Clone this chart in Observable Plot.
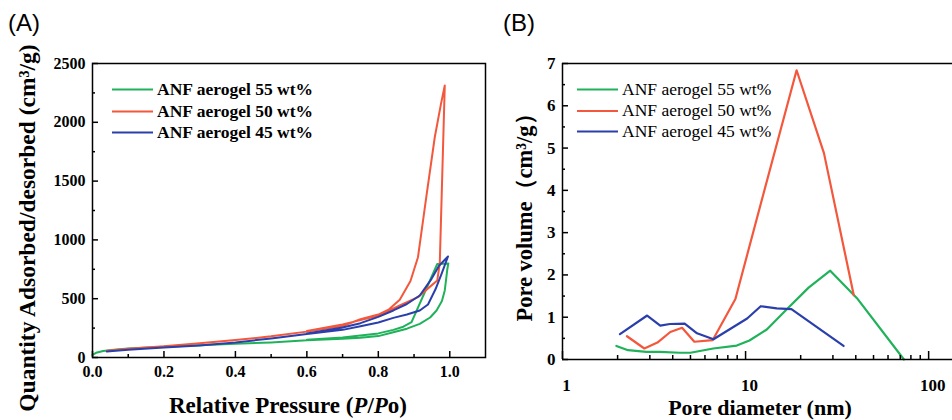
<!DOCTYPE html>
<html><head><meta charset="utf-8">
<script src="https://cdn.jsdelivr.net/npm/d3@7"></script>
<script src="https://cdn.jsdelivr.net/npm/@observablehq/plot@0.6"></script>
<style>
body{margin:0;background:#fff;}
#wrap{position:relative;width:952px;height:420px;overflow:hidden;background:#fff;}
#a,#b{position:absolute;top:0;}
#a{left:0;} #b{left:490px;}
</style></head>
<body><div id="wrap"><div id="a"></div><div id="b"></div></div>
<script>
// ---------- data ----------
const seriesNames = ["ANF aerogel 55 wt%", "ANF aerogel 50 wt%", "ANF aerogel 45 wt%"];
const seriesColors = ["#20b25a", "#f3573c", "#2a3fab"];

// Panel A: N2 isotherms (adsorption branch then desorption branch)
const pA55 = [0.000,0.010,0.030,0.060,0.100,0.200,0.300,0.400,0.500,0.600,0.700,0.750,0.800,0.842,0.880,0.916,0.945,0.963,0.978,0.986,0.993,0.996,0.965,0.930,0.893,0.870,0.842,0.800,0.750,0.700,0.600];
const qA55 = [22,40,55,66,76,92,105,116,128,146,160,167,182,215,245,286,340,400,480,570,748,800,795,555,300,262,235,205,187,170,150];
const pA50 = [0.040,0.100,0.200,0.300,0.400,0.500,0.600,0.700,0.750,0.800,0.830,0.860,0.890,0.911,0.935,0.958,0.975,0.986,0.972,0.965,0.940,0.911,0.860,0.800,0.750,0.700,0.600];
const qA50 = [58,75,95,122,148,180,220,268,325,365,410,491,650,853,1380,1873,2150,2313,800,655,590,513,442,355,318,280,225];
const pA45 = [0.040,0.100,0.200,0.300,0.400,0.500,0.600,0.700,0.750,0.800,0.842,0.880,0.916,0.939,0.960,0.977,0.995,0.970,0.949,0.916,0.880,0.842,0.800,0.750,0.700,0.600];
const qA45 = [52,66,84,103,128,162,200,235,265,298,337,365,400,451,580,712,859,780,669,527,455,400,345,292,255,205];

// Panel B: pore size distribution
const dB55 = [1.97,2.28,2.87,3.40,4.38,5.00,6.66,8.95,10.5,13.06,16.8,22.1,29.0,40.6,73.3];
const vB55 = [0.32,0.22,0.18,0.18,0.16,0.16,0.26,0.33,0.45,0.71,1.19,1.70,2.10,1.45,0.00];
const dB50 = [2.25,2.80,3.30,3.88,4.50,5.25,6.62,8.80,12.0,19.0,26.8,39.0];
const vB50 = [0.55,0.26,0.40,0.65,0.75,0.42,0.46,1.43,3.62,6.84,4.88,1.52];
const dB45 = [2.06,2.90,3.42,3.86,4.65,5.43,6.68,10.2,12.1,14.8,17.8,34.3];
const vB45 = [0.60,1.04,0.80,0.84,0.85,0.62,0.48,0.97,1.26,1.21,1.19,0.32];

// ticks
const xMajorA = [0,0.2,0.4,0.6,0.8,1.0];
const xMinorA = [0.1,0.3,0.5,0.7,0.9];
const yMajorA = [0,500,1000,1500,2000,2500];
const yMinorA = [250,750,1250,1750,2250];
const xMajorB = [1,10,100];
const xMinorB = [2,3,4,5,6,7,8,9,20,30,40,50,60,70,80,90];
const yMajorB = [0,1,2,3,4,5,6,7];
const yMinorB = [0.5,1.5,2.5,3.5,4.5,5.5,6.5];

// ---------- build rows ----------
const rowsA = [];
[[pA55,qA55],[pA50,qA50],[pA45,qA45]].forEach(([ps,qs],i)=>ps.forEach((p,j)=>rowsA.push({s:seriesNames[i],p,q:qs[j]})));
const rowsB = [];
[[dB55,vB55],[dB50,vB50],[dB45,vB45]].forEach(([ds,vs],i)=>ds.forEach((d,j)=>rowsB.push({s:seriesNames[i],d,v:vs[j]})));

const serif = "'Liberation Serif','Times New Roman',serif";
const color = {domain: seriesNames, range: seriesColors};

// ---------- Panel A ----------
const WA = 490, H = 420, mlA = 92, mrA = 5, mtA = 63, mbA = 63;
const pwA = WA - mlA - mrA, phA = H - mtA - mbA;
const plotA = Plot.plot({
  width: WA, height: H, marginLeft: mlA, marginRight: mrA, marginTop: mtA, marginBottom: mbA,
  style: {fontFamily: serif, fontWeight: "bold", fontSize: "16px", color: "#000", background: "transparent"},
  x: {domain: [0, 1.1]},
  y: {domain: [0, 2500]},
  color,
  marks: [
    Plot.line(rowsA, {x: "p", y: "q", z: "s", stroke: "s", strokeWidth: 2}),
    Plot.tickX(xMajorA, {x: d => d, insetTop: phA - 6, stroke: "#000", strokeWidth: 1.5}),
    Plot.tickX(xMinorA, {x: d => d, insetTop: phA - 3, stroke: "#000", strokeWidth: 1.5}),
    Plot.tickY(yMajorA, {y: d => d, insetRight: pwA - 6, stroke: "#000", strokeWidth: 1.5}),
    Plot.tickY(yMinorA, {y: d => d, insetRight: pwA - 3, stroke: "#000", strokeWidth: 1.5}),
    Plot.axisX(xMajorA, {tickSize: 0, tickPadding: 8, tickFormat: d3.format(".1f"), label: null, fontSize: 16, fontWeight: "bold"}),
    Plot.axisY(yMajorA, {tickSize: 0, tickPadding: 7, tickFormat: d => String(d), label: null, fontSize: 16, fontWeight: "bold"}),
    Plot.frame({stroke: "#000", strokeWidth: 1.5})
  ]
});
document.getElementById("a").appendChild(plotA);
const svgA = d3.select(plotA);
svgA.append("text").attr("x", 8).attr("y", 31).attr("text-anchor", "start").attr("font-family", "'Liberation Sans',Arial,sans-serif")
  .attr("font-size", 24).attr("font-weight", "normal").text("(A)");
svgA.append("text").attr("transform", "translate(30,228) rotate(-90)").attr("text-anchor", "middle")
  .attr("dominant-baseline", "middle").attr("font-family", serif).attr("font-weight", "bold").attr("font-size", 23.5)
  .text("Quantity Adsorbed/desorbed (cm³/g)");
const xlA = svgA.append("text").attr("x", 288).attr("y", 413).attr("text-anchor", "middle")
  .attr("font-family", serif).attr("font-weight", "bold").attr("font-size", 23);
xlA.append("tspan").text("Relative Pressure (");
xlA.append("tspan").attr("font-style", "italic").text("P");
xlA.append("tspan").text("/");
xlA.append("tspan").attr("font-style", "italic").text("P");
xlA.append("tspan").text("o)");
const legYA = [89.5, 111.5, 132.5];
seriesNames.forEach((n, i) => {
  svgA.append("line").attr("x1", 112).attr("x2", 153).attr("y1", legYA[i]).attr("y2", legYA[i])
    .attr("stroke", seriesColors[i]).attr("stroke-width", 2.2);
  svgA.append("text").attr("x", 157).attr("y", legYA[i] + 5).attr("text-anchor", "start").attr("font-family", serif)
    .attr("font-weight", "bold").attr("font-size", 17.5).text(n);
});

// ---------- Panel B ----------
const WB = 462, mlB = 72, mrB = 0, mtB = 63, mbB = 61;
const pwB = WB - mlB - mrB, phB = H - mtB - mbB;
const plotB = Plot.plot({
  width: WB, height: H, marginLeft: mlB, marginRight: mrB, marginTop: mtB, marginBottom: mbB,
  style: {fontFamily: serif, fontWeight: "bold", fontSize: "17px", color: "#000", background: "transparent"},
  x: {type: "log", domain: [1, 135]},
  y: {domain: [0, 7]},
  color,
  marks: [
    Plot.line(rowsB, {x: "d", y: "v", z: "s", stroke: "s", strokeWidth: 2.2}),
    Plot.tickX(xMajorB, {x: d => d, insetTop: phB - 8, stroke: "#000", strokeWidth: 1.5}),
    Plot.tickX(xMinorB, {x: d => d, insetTop: phB - 4, stroke: "#000", strokeWidth: 1.5}),
    Plot.tickY(yMajorB, {y: d => d, insetRight: pwB - 6, stroke: "#000", strokeWidth: 1.5}),
    Plot.tickY(yMinorB, {y: d => d, insetRight: pwB - 3, stroke: "#000", strokeWidth: 1.5}),
    Plot.axisX(xMajorB, {tickSize: 0, tickPadding: 19, dx: 4, tickFormat: d => String(d), label: null, fontSize: 17, fontWeight: "bold"}),
    Plot.axisY(yMajorB, {tickSize: 0, tickPadding: 7, tickFormat: d => String(d), label: null, fontSize: 17, fontWeight: "bold"}),
    Plot.ruleX([1], {stroke: "#000", strokeWidth: 1.5}),
    Plot.ruleY([0, 7], {stroke: "#000", strokeWidth: 1.5})
  ]
});
document.getElementById("b").appendChild(plotB);
const svgB = d3.select(plotB);
svgB.append("text").attr("x", 13).attr("y", 31).attr("text-anchor", "start").attr("font-family", "'Liberation Sans',Arial,sans-serif")
  .attr("font-size", 24).attr("font-weight", "normal").text("(B)");
svgB.append("text").attr("transform", "translate(37,212) rotate(-90)").attr("text-anchor", "middle")
  .attr("dominant-baseline", "middle").attr("font-family", serif).attr("font-weight", "bold").attr("font-size", 22.5)
  .text("Pore volume（cm³/g）");
svgB.append("text").attr("x", 270).attr("y", 415).attr("text-anchor", "middle")
  .attr("font-family", serif).attr("font-weight", "bold").attr("font-size", 22).text("Pore diameter (nm)");
const legYB = [89.5, 111, 131.5];
seriesNames.forEach((n, i) => {
  svgB.append("line").attr("x1", 87).attr("x2", 128).attr("y1", legYB[i]).attr("y2", legYB[i])
    .attr("stroke", seriesColors[i]).attr("stroke-width", 2.2);
  svgB.append("text").attr("x", 132).attr("y", legYB[i] + 5).attr("text-anchor", "start").attr("font-family", serif)
    .attr("font-weight", "normal").attr("font-size", 17.5).text(n);
});
</script>
</body></html>
